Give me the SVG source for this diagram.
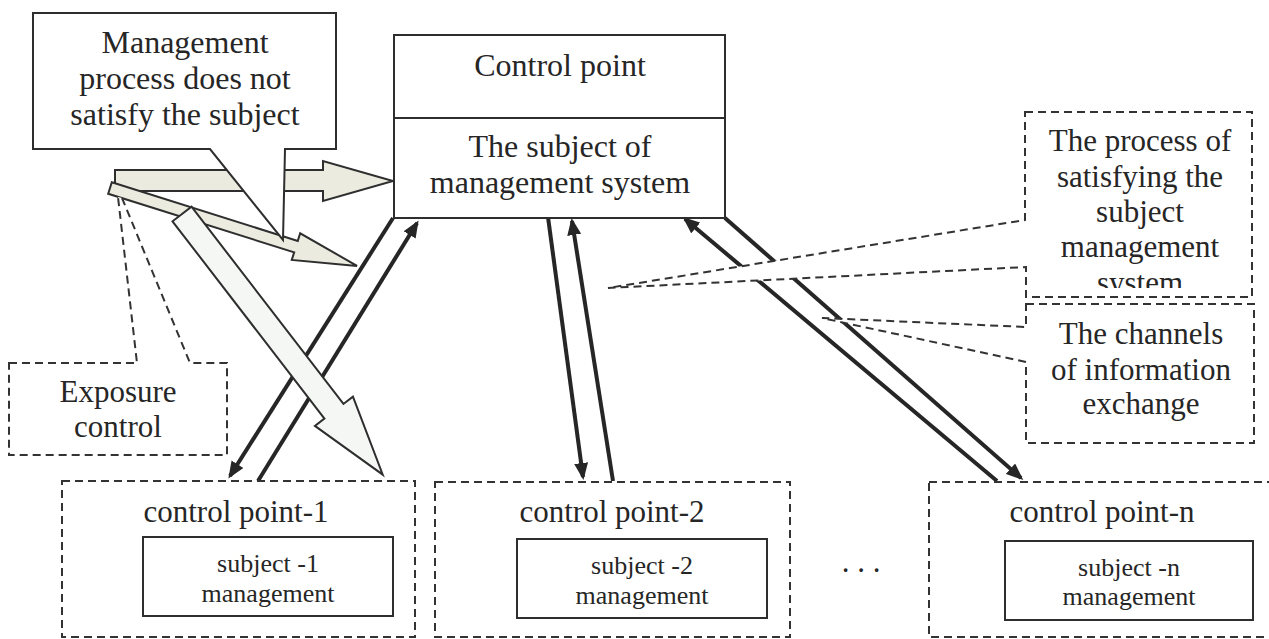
<svg xmlns="http://www.w3.org/2000/svg" width="1269" height="639" viewBox="0 0 1269 639">
  <style>
    text { font-family: "Liberation Serif", "Times New Roman", serif; fill: #262626; text-anchor: middle; }
    .t32 { font-size: 32px; }
    .t31 { font-size: 31px; }
    .t26 { font-size: 26px; }
    .solid { fill: #ffffff; stroke: #2e2e2e; stroke-width: 2; }
    .dash { fill: #ffffff; stroke: #333333; stroke-width: 2; stroke-dasharray: 8 5; }
    .dashbox { fill: none; stroke: #333333; stroke-width: 2; stroke-dasharray: 8 5; }
    .link { fill: none; stroke: #262626; stroke-width: 4; marker-end: url(#ah); }
    .block { stroke: #2e2e2e; stroke-width: 2; stroke-linejoin: miter; }
    .beige { fill: #ebebdf; }
    .pale { fill: #f5f7f5; }
  </style>
  <defs>
    <marker id="ah" markerUnits="userSpaceOnUse" markerWidth="18" markerHeight="14" refX="14" refY="7" orient="auto">
      <path d="M0,0 L17,7 L0,14 Z" fill="#262626"/>
    </marker>
    <clipPath id="clipProcess">
      <rect x="1026" y="113" width="226" height="175"/>
    </clipPath>
  </defs>

  <rect width="1269" height="639" fill="#ffffff"/>

  <!-- connectors: exchange channels and influence arrows -->
  <g id="connectors">
    <!-- influence arrows from the exposure control point -->
    <polygon class="block beige" points="115,170 323,170 323,161 393,181 323,201 323,191 115,191"/>
    <polygon class="block beige" transform="translate(110,188) rotate(17.5)" points="0,-6 195,-6 195,-14 259,0 195,14 195,6 0,6"/>
    <!-- information exchange channels -->
    <line class="link" x1="393" y1="218" x2="230" y2="476"/>
    <line class="link" x1="258" y1="481" x2="417" y2="223"/>
    <line class="link" x1="548" y1="217" x2="583" y2="477"/>
    <line class="link" x1="613" y1="481" x2="572" y2="221"/>
    <line class="link" x1="997" y1="481" x2="685" y2="219"/>
    <line class="link" x1="725" y1="218" x2="1021" y2="478"/>
    <polygon class="block pale" transform="translate(182,214) rotate(52.4)" points="0,-12 249,-12 249,-24 329,0 249,24 249,12 0,12"/>
  </g>

  <!-- central control point -->
  <g id="control-point">
    <rect class="solid" x="394" y="35" width="331" height="183"/>
    <line x1="394" y1="118" x2="725" y2="118" stroke="#2e2e2e" stroke-width="2"/>
    <text class="t32" x="560" y="76">Control point</text>
    <text class="t32" x="560" y="157">The subject of</text>
    <text class="t32" x="560" y="193">management system</text>
  </g>

  <!-- callout: management process does not satisfy the subject -->
  <g id="callout-not-satisfy">
    <path class="solid" d="M33,13 H336 V149 H285 L283,240 L210,149 H33 Z"/>
    <text class="t32" x="185" y="53">Management</text>
    <text class="t32" x="185" y="89">process does not</text>
    <text class="t32" x="185" y="125">satisfy the subject</text>
  </g>

  <!-- callout: exposure control -->
  <g id="callout-exposure">
    <path class="dash" d="M9,363 H137 L118,197 L122,198 L190,363 H227 V455 H9 Z"/>
    <text class="t31" x="118" y="402">Exposure</text>
    <text class="t31" x="118" y="437">control</text>
  </g>

  <!-- callout: process of satisfying the subject -->
  <g id="callout-satisfying">
    <path class="dash" d="M1025,112 H1252 V297 H1026 V267 L608,288 L1025,220 Z"/>
    <g clip-path="url(#clipProcess)">
      <text class="t31" x="1140" y="151">The process of</text>
      <text class="t31" x="1140" y="187">satisfying the</text>
      <text class="t31" x="1140" y="222">subject</text>
      <text class="t31" x="1140" y="257">management</text>
      <text class="t31" x="1140" y="293">system</text>
    </g>
  </g>

  <!-- callout: channels of information exchange -->
  <g id="callout-channels">
    <path class="dash" d="M1026,304 H1254 V443 H1026 V362 L822,318 L1026,327 Z"/>
    <text class="t31" x="1141" y="344">The channels</text>
    <text class="t31" x="1141" y="380">of information</text>
    <text class="t31" x="1141" y="414">exchange</text>
  </g>

  <!-- subordinate control points -->
  <g id="control-point-1">
    <rect class="dashbox" x="62" y="481" width="353" height="156"/>
    <text class="t31" x="236" y="522">control point-1</text>
    <rect class="solid" x="143" y="537" width="250" height="79"/>
    <text class="t26" x="268" y="572">subject -1</text>
    <text class="t26" x="268" y="602">management</text>
  </g>

  <g id="control-point-2">
    <rect class="dashbox" x="435" y="482" width="355" height="155"/>
    <text class="t31" x="612" y="522">control point-2</text>
    <rect class="solid" x="517" y="539" width="250" height="79"/>
    <text class="t26" x="642" y="574">subject -2</text>
    <text class="t26" x="642" y="604">management</text>
  </g>

  <g id="ellipsis">
    <text class="t31" x="861" y="572">. . .</text>
  </g>

  <g id="control-point-n">
    <rect class="dashbox" x="929" y="482" width="350" height="155"/>
    <text class="t31" x="1102" y="522">control point-n</text>
    <rect class="solid" x="1005" y="541" width="248" height="79"/>
    <text class="t26" x="1129" y="576">subject -n</text>
    <text class="t26" x="1129" y="605">management</text>
  </g>
</svg>
